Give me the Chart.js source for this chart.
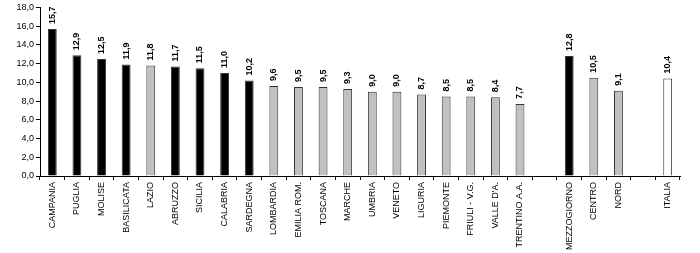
<!DOCTYPE html>
<html>
<head>
<meta charset="utf-8">
<script src="https://cdn.jsdelivr.net/npm/chart.js@4/dist/chart.umd.min.js"></script>
<style>
  html, body { margin: 0; padding: 0; background: #fff; }
  #wrap { width: 700px; height: 253px; }
</style>
</head>
<body>
<div id="wrap"><canvas id="chartTassi"></canvas></div>
<script>
// regioni e aggregati ('' = spazio vuoto)
const categorie = ['CAMPANIA', 'PUGLIA', 'MOLISE', 'BASILICATA', 'LAZIO', 'ABRUZZO', 'SICILIA', 'CALABRIA', 'SARDEGNA',
  'LOMBARDIA', 'EMILIA ROM.', 'TOSCANA', 'MARCHE', 'UMBRIA', 'VENETO', 'LIGURIA', 'PIEMONTE', 'FRIULI - V.G.',
  "VALLE D'A.", 'TRENTINO A.A.', '', 'MEZZOGIORNO', 'CENTRO', 'NORD', '', 'ITALIA'];
const valori = [15.7, 12.9, 12.5, 11.9, 11.8, 11.7, 11.5, 11.0, 10.2,
  9.6, 9.5, 9.5, 9.3, 9.0, 9.0, 8.7, 8.5, 8.5,
  8.4, 7.7, null, 12.8, 10.5, 9.1, null, 10.4];
// gruppo: s = sud, c = centro-nord, i = italia
const gruppi = ['s', 's', 's', 's', 'c', 's', 's', 's', 's',
  'c', 'c', 'c', 'c', 'c', 'c', 'c', 'c', 'c',
  'c', 'c', '', 's', 'c', 'c', '', 'i'];
const tickY = [0, 2, 4, 6, 8, 10, 12, 14, 16, 18];

const colori = { s: '#000000', c: '#c0c0c0', i: '#ffffff', '': '#ffffff' };
const virgola = v => v.toFixed(1).replace('.', ',');

// etichette verticali sopra le barre
const etichette = {
  id: 'etichette',
  afterDatasetsDraw(chart) {
    const ctx = chart.ctx;
    const meta = chart.getDatasetMeta(0);
    ctx.save();
    ctx.font = 'bold 9px "Liberation Sans", Arial, sans-serif';
    ctx.fillStyle = '#000';
    ctx.textAlign = 'left';
    ctx.textBaseline = 'middle';
    meta.data.forEach((bar, i) => {
      if (valori[i] == null) return;
      ctx.save();
      ctx.translate(bar.x, bar.y - 5);
      ctx.rotate(-Math.PI / 2);
      ctx.fillText(virgola(valori[i]), 0, 0);
      ctx.restore();
    });
    ctx.restore();
  }
};

new Chart(document.getElementById('chartTassi'), {
  type: 'bar',
  data: {
    labels: categorie,
    datasets: [{
      data: valori,
      backgroundColor: gruppi.map(g => colori[g]),
      borderColor: '#333333',
      borderWidth: 1,
      borderSkipped: 'bottom',
      categoryPercentage: 1,
      barPercentage: 0.36
    }]
  },
  options: {
    responsive: true,
    maintainAspectRatio: false,
    animation: false,
    layout: { padding: { top: 2, right: 20, left: 4 } },
    plugins: { legend: { display: false }, tooltip: { enabled: false } },
    scales: {
      x: {
        afterFit: s => { s.height = 77; },
        grid: { offset: true, drawOnChartArea: false, tickLength: 4, color: '#000' },
        border: { color: '#000' },
        ticks: {
          autoSkip: false, minRotation: 90, maxRotation: 90, padding: 2,
          color: '#000', font: { family: '"Liberation Sans", Arial, sans-serif', size: 9 }
        }
      },
      y: {
        min: 0, max: 18,
        afterFit: s => { s.width = 36; },
        afterBuildTicks: s => { s.ticks = tickY.map(v => ({ value: v })); },
        grid: { drawOnChartArea: false, tickLength: 4, color: '#000' },
        border: { color: '#000' },
        ticks: {
          padding: 2, color: '#000',
          font: { family: '"Liberation Sans", Arial, sans-serif', size: 9 },
          callback: v => virgola(v)
        }
      }
    }
  },
  plugins: [etichette]
});
</script>
</body>
</html>
